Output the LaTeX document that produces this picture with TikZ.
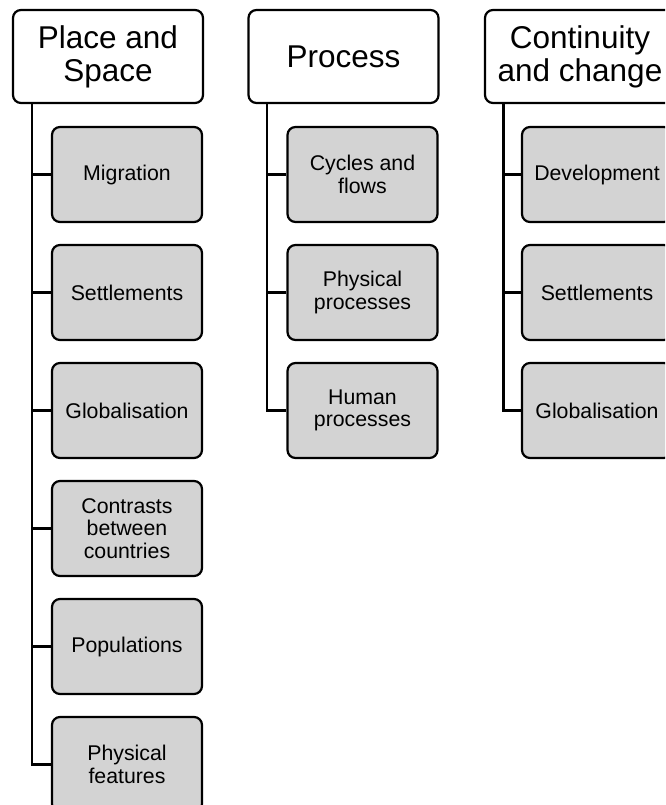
\documentclass[tikz,border=0pt]{standalone}
\usepackage{fontspec}
\setmainfont{Liberation Sans}
\definecolor{subgray}{HTML}{D3D3D3}
\begin{document}
\begin{tikzpicture}[x=1pt,y=-1pt,
  topbox/.style={draw=black, line width=2.2pt, rounded corners=8pt, fill=white,
    minimum width=190pt, minimum height=93pt, align=center, inner sep=0pt,
    font=\fontsize{31.5}{33}\selectfont},
  subbox/.style={draw=black, line width=2.2pt, rounded corners=8pt, fill=subgray,
    minimum width=150pt, minimum height=95pt, align=center, inner sep=0pt,
    font=\fontsize{21.3}{22.5}\selectfont},
  link/.style={draw=black, line width=2.2pt}]
\useasboundingbox (0,0) rectangle (665,805);
\clip (0,0) rectangle (665,805);

% column 1
\node[topbox] (a) at (108,56.5) {Place and\\Space};
\node[subbox] (a1) at (127,174.5) {Migration};
\node[subbox] (a2) at (127,292.5) {Settlements};
\node[subbox] (a3) at (127,410.5) {Globalisation};
\node[subbox] (a4) at (127,528.5) {Contrasts\\between\\countries};
\node[subbox] (a5) at (127,646.5) {Populations};
\node[subbox] (a6) at (127,764.5) {Physical\\features};
\coordinate (sa) at ([xshift=20pt]a.south west);
\draw[link] (sa) |- (a6.west);
\foreach \i in {1,...,5} \draw[link] (a\i.west) -- (a\i.west -| sa);

% column 2
\node[topbox] (b) at (343.5,56.5) {Process};
\node[subbox] (b1) at (362.5,174.5) {Cycles and\\flows};
\node[subbox] (b2) at (362.5,292.5) {Physical\\processes};
\node[subbox] (b3) at (362.5,410.5) {Human\\processes};
\coordinate (sb) at ([xshift=19.5pt]b.south west);
\draw[link] (sb) |- (b3.west);
\foreach \i in {1,2} \draw[link] (b\i.west) -- (b\i.west -| sb);

% column 3
\node[topbox] (c) at (580,56.5) {Continuity\\and change};
\node[subbox] (c1) at (597,174.5) {Development};
\node[subbox] (c2) at (597,292.5) {Settlements};
\node[subbox] (c3) at (597,410.5) {Globalisation};
\coordinate (sc) at ([xshift=19.5pt]c.south west);
\draw[link] (sc) |- (c3.west);
\foreach \i in {1,2} \draw[link] (c\i.west) -- (c\i.west -| sc);
\end{tikzpicture}
\end{document}
